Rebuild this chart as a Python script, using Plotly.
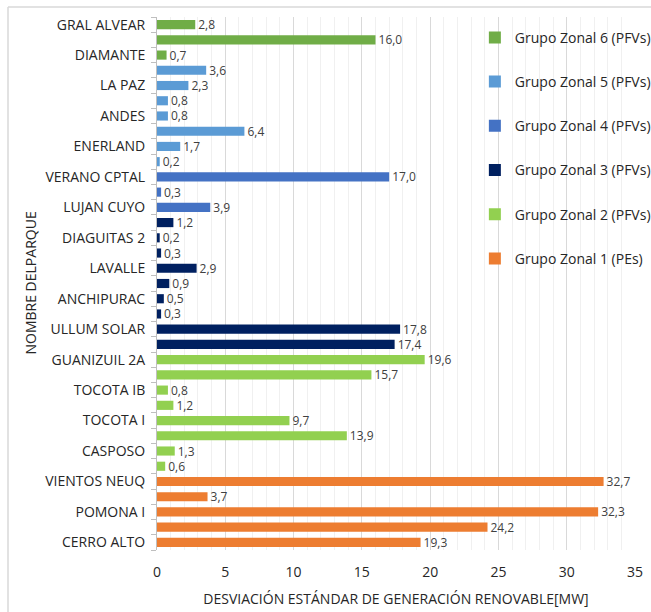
import plotly.graph_objects as go

# Data, from bottom (index 0) to top
parques = ["CERRO ALTO", "", "POMONA I", "", "VIENTOS NEUQ", "", "CASPOSO", "", "TOCOTA I", "",
           "TOCOTA IB", "", "GUANIZUIL 2A", "", "ULLUM SOLAR", "", "ANCHIPURAC", "", "LAVALLE", "",
           "DIAGUITAS 2", "", "LUJAN CUYO", "", "VERANO CPTAL", "", "ENERLAND", "", "ANDES", "",
           "LA PAZ", "", "DIAMANTE", "", "GRAL ALVEAR"]
valores = [19.3, 24.2, 32.3, 3.7, 32.7,
           0.6, 1.3, 13.9, 9.7, 1.2, 0.8, 15.7, 19.6,
           17.4, 17.8, 0.3, 0.5, 0.9, 2.9, 0.3, 0.2, 1.2,
           3.9, 0.3, 17.0,
           0.2, 1.7, 6.4, 0.8, 0.8, 2.3, 3.6,
           0.7, 16.0, 2.8]
grupos = [1] * 5 + [2] * 8 + [3] * 9 + [4] * 3 + [5] * 7 + [6] * 3
nombres_grupo = {
    1: "Grupo Zonal 1 (PEs)",
    2: "Grupo Zonal 2 (PFVs)",
    3: "Grupo Zonal 3 (PFVs)",
    4: "Grupo Zonal 4 (PFVs)",
    5: "Grupo Zonal 5 (PFVs)",
    6: "Grupo Zonal 6 (PFVs)",
}
colores = {1: "#ED7D31", 2: "#92D050", 3: "#002060", 4: "#4472C4", 5: "#5B9BD5", 6: "#70AD47"}
titulo_x = "DESVIACIÓN ESTÁNDAR DE GENERACIÓN RENOVABLE[MW]"
titulo_y = "NOMBRE DELPARQUE"

FONT = "Open Sans"
TXT = "#262626"
fig = go.Figure()
for g in [6, 5, 4, 3, 2, 1]:
    idx = [i for i, gg in enumerate(grupos) if gg == g]
    fig.add_trace(go.Bar(
        x=[valores[i] for i in idx],
        y=idx,
        orientation="h",
        name=nombres_grupo[g],
        legendgroup=str(g),
        marker=dict(color=colores[g], line=dict(width=0)),
        width=0.6,
        texttemplate="%{x:.1f}",
        textposition="outside",
        constraintext="none",
        textfont=dict(color="#404040", size=12, family=FONT),
        cliponaxis=False,
    ))

tickvals = [i for i, n in enumerate(parques) if n]
ticktext = [n for n in parques if n]

fig.update_layout(
    width=651, height=612,
    margin=dict(l=157, r=16, t=17, b=62, autoexpand=False),
    paper_bgcolor="white", plot_bgcolor="white",
    separators=",.",
    barmode="overlay",
    font=dict(family=FONT, size=14, color=TXT),
    showlegend=True,
    legend=dict(x=0.665, xanchor="left", y=0.991, yanchor="top",
                bgcolor="rgba(0,0,0,0)", traceorder="grouped",
                tracegroupgap=23, font=dict(size=14, color=TXT),
                itemwidth=30),
    xaxis=dict(range=[0, 35], dtick=5, tick0=0, showgrid=True, gridcolor="#d9d9d9",
               gridwidth=1, zeroline=False, showline=False, ticks="",
               ticklabelstandoff=12,
               minor=dict(dtick=1, tick0=0, showgrid=True, gridcolor="#f0f0f0", gridwidth=1),
               tickfont=dict(size=14, color=TXT),
               title=dict(text=titulo_x, font=dict(size=14, color=TXT), standoff=14)),
    yaxis=dict(range=[-0.5, 34.5], tickmode="array", tickvals=tickvals, ticktext=ticktext,
               showgrid=False, zeroline=False, showline=True, linecolor="#bfbfbf", linewidth=1,
               ticks="", ticklabelstandoff=8,
               minor=dict(tickmode="linear", tick0=-0.5, dtick=1, ticks="outside",
                          ticklen=5, tickcolor="#bfbfbf", showgrid=False),
               tickfont=dict(size=14, color=TXT)),
    annotations=[
        dict(text=titulo_y, xref="paper", yref="paper", x=(30 - 157) / 478, y=0.5,
             xanchor="center", yanchor="middle", textangle=-90, showarrow=False,
             font=dict(size=14, color=TXT)),
    ],
    shapes=[
        dict(type="line", xref="paper", yref="paper", x0=(8 - 157) / 478, x1=1.1,
             y0=1 + 10 / 533, y1=1 + 10 / 533, line=dict(color="#d9d9d9", width=1.5)),
        dict(type="line", xref="paper", yref="paper", x0=(8 - 157) / 478, x1=(8 - 157) / 478,
             y0=1 + 10 / 533, y1=-0.2, line=dict(color="#d9d9d9", width=1.5)),
    ],
)

fig.write_html("out.html")
